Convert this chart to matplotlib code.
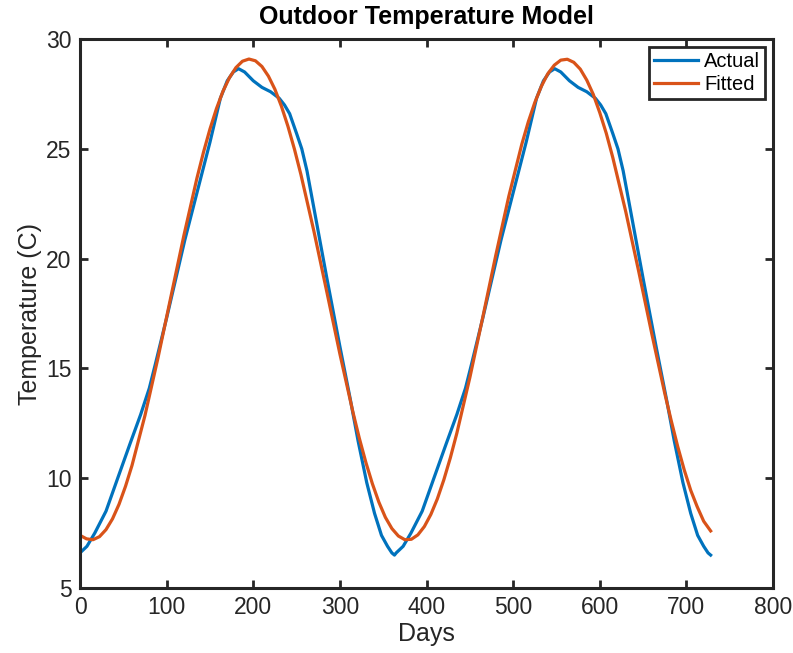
import matplotlib
matplotlib.use("Agg")
import matplotlib.pyplot as plt

# Actual temperature
actual_days = [0, 8, 17, 30, 43.5, 58, 70, 80, 87, 100, 121, 135, 150, 162, 170, 177, 183, 190,
               200, 210, 220, 230, 236, 242, 250, 256, 262, 270, 285, 300, 312, 321, 331, 340,
               348, 355, 360, 363,
               365, 373, 382, 395, 408.5, 423, 435, 445, 452, 465, 486, 500, 515, 527, 535, 542,
               548, 555, 565, 575, 585, 595, 601, 607, 615, 621, 627, 635, 650, 665, 677, 686,
               696, 705, 713, 720, 725, 728]
actual_temp = [6.6, 6.9, 7.5, 8.5, 10.0, 11.6, 12.9, 14.1, 15.2, 17.3, 20.85, 23.0, 25.3, 27.3,
               28.1, 28.5, 28.65, 28.5, 28.1, 27.8, 27.6, 27.3, 27.0, 26.6, 25.7, 25.0, 24.0,
               22.3, 19.1, 16.0, 13.6, 11.7, 9.8, 8.4, 7.4, 6.9, 6.6, 6.5,
               6.6, 6.9, 7.5, 8.5, 10.0, 11.6, 12.9, 14.1, 15.2, 17.3, 20.85, 23.0, 25.3, 27.3,
               28.1, 28.5, 28.65, 28.5, 28.1, 27.8, 27.6, 27.3, 27.0, 26.6, 25.7, 25.0, 24.0,
               22.3, 19.1, 16.0, 13.6, 11.7, 9.8, 8.4, 7.4, 6.9, 6.6, 6.5]

# Fitted curve
fitted_days = [0, 7.5, 15, 22.5, 30, 37.5, 45, 52.5, 60, 75, 90, 105, 120, 135, 142.5, 150,
               157.5, 165, 172.5, 180, 187.5, 195, 202.5, 210, 217.5, 225, 232.5, 240, 247.5,
               255, 270, 285, 300, 315, 322.5, 330, 337.5, 345, 352.5, 360, 367.5, 375, 382.5,
               390, 397.5, 405, 412.5, 420, 427.5, 435, 450, 465, 480, 495, 510, 517.5, 525,
               532.5, 540, 547.5, 555, 562.5, 570, 577.5, 585, 592.5, 600, 607.5, 615, 630,
               645, 660, 675, 682.5, 690, 697.5, 705, 712.5, 720, 728]
fitted_temp = [7.40, 7.24, 7.20, 7.34, 7.66, 8.15, 8.81, 9.63, 10.58, 12.86, 15.48, 18.28,
               21.07, 23.67, 24.84, 25.90, 26.83, 27.62, 28.24, 28.70, 28.99, 29.09, 29.01,
               28.75, 28.31, 27.71, 26.94, 26.03, 24.99, 23.83, 21.25, 18.47, 15.66, 13.02,
               11.81, 10.72, 9.75, 8.91, 8.22, 7.71, 7.37, 7.20, 7.22, 7.42, 7.80, 8.35, 9.06,
               9.93, 10.93, 12.05, 14.58, 17.34, 20.16, 22.84, 25.21, 26.23, 27.11, 27.84,
               28.42, 28.81, 29.04, 29.08, 28.94, 28.63, 28.13, 27.48, 26.65, 25.71, 24.61,
               22.14, 19.41, 16.59, 13.87, 12.62, 11.44, 10.38, 9.45, 8.70, 8.04, 7.60]

plt.rcParams['font.family'] = ['Liberation Sans', 'DejaVu Sans']
dark = '#262626'

fig = plt.figure(figsize=(7.93, 6.53), dpi=100)
ax = fig.add_axes([0.1009, 0.0995, 0.8739, 0.8407])

ax.plot(actual_days, actual_temp, color='#0072BD', lw=2.3, label='Actual')
ax.plot(fitted_days, fitted_temp, color='#D95319', lw=2.3, label='Fitted')

ax.set_xlim(0, 800)
ax.set_ylim(5, 30)
ax.set_xticks(range(0, 801, 100))
ax.set_yticks(range(5, 31, 5))

ax.set_title("Outdoor Temperature Model", fontsize=18, fontweight='bold', pad=11)
ax.set_xlabel("Days", fontsize=18, color=dark, labelpad=2)
ax.set_ylabel("Temperature (C)", fontsize=18, color=dark, labelpad=3)

for s in ax.spines.values():
    s.set_linewidth(2.2)
    s.set_color(dark)
ax.tick_params(direction='in', length=6, width=2, colors=dark, labelsize=16.5,
               top=True, right=True, pad=6)

leg = ax.legend(loc='upper right', fontsize=14.5, fancybox=False, framealpha=1,
                handlelength=2.2, handletextpad=0.3, borderpad=0.25, labelspacing=0.2,
                borderaxespad=0.4)
leg.get_frame().set_edgecolor(dark)
leg.get_frame().set_linewidth(2)

fig.savefig("out.png", dpi=100)
